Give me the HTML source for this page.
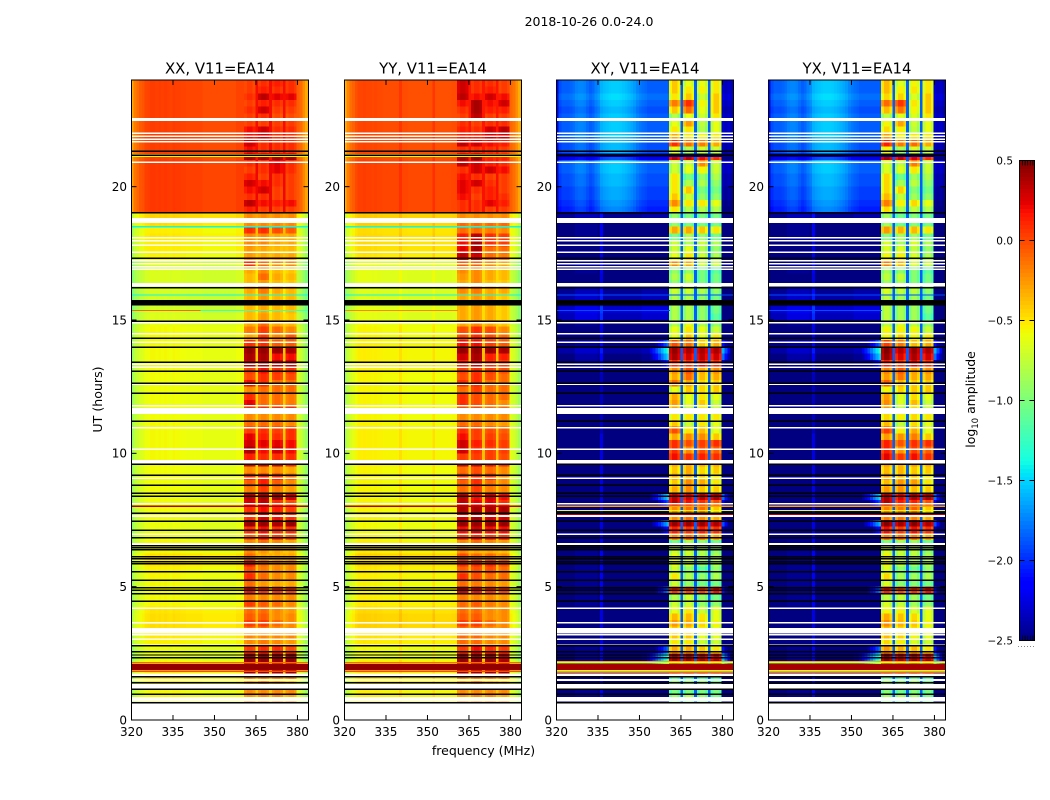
<!DOCTYPE html>
<html lang="en">
<head>
<meta charset="utf-8">
<title>2018-10-26 0.0-24.0</title>
<style>
html,body{margin:0;padding:0;background:#fff;}
svg{display:block;}
text{font-family:"DejaVu Sans","Liberation Sans",sans-serif;fill:#000;}
</style>
</head>
<body>
<svg id="chart" xmlns="http://www.w3.org/2000/svg" width="1050" height="800" viewBox="0 0 1050 800">
<rect x="0" y="0" width="1050" height="800" fill="#fff"/>
<text x="589" y="26" font-size="12.5" text-anchor="middle">2018-10-26 0.0-24.0</text>
<text x="483.5" y="755" font-size="12.5" text-anchor="middle">frequency (MHz)</text>
<text x="0" y="0" font-size="12.6" text-anchor="middle" transform="translate(102,399.5) rotate(-90)">UT (hours)</text>
<text x="0" y="0" font-size="12.4" text-anchor="middle" transform="translate(975,399.5) rotate(-90)">log<tspan font-size="8.6" dy="3">10</tspan><tspan dy="-3"> amplitude</tspan></text>
</svg>
<script>
/* ---------- axis data ---------- */
const freqTicks = [320, 335, 350, 365, 380];
const hourTicks = [0, 5, 10, 15, 20];
const freqRange = [320, 384];
const hourRange = [0, 24];
const colorRange = [-2.5, 0.5];
const colorbarTicks = [0.5, 0, -0.5, -1, -1.5, -2, -2.5];
const colorbarTickLabels = ["0.5", "0.0", "\u22120.5", "\u22121.0", "\u22121.5", "\u22122.0", "\u22122.5"];
const panelTitles = ["XX, V11=EA14", "YY, V11=EA14", "XY, V11=EA14", "YX, V11=EA14"];

/* ---------- heatmap grid: 0.25 h rows, 1 MHz channels ---------- */
const rowHours = 0.25;
const firstChannelMHz = 319.75;
const blockStartChannels = [41, 46, 51, 56];
const gapChannels = [45, 50, 55];

/* background log10 amplitude per 0.25 h row, from 24 h down to 0 h */
const xxBackground = [-.01,-.01,-.01,-.01,-.01,-.01,-.01,-.01,-.01,-.01,-.01,-.01,.01,.01,.01,.01,.01,.01,.01,.01,
-.48,-.52,-.57,-.55,-.57,-.57,-.59,-.7,-.7,-.7,-.7,-.72,-.73,-.73,-.73,-.69,-.64,-.61,-.61,-.61,-.61,-.61,-.61,-.61,-.62,-.62,-.62,-.62,-.62,-.62,-.62,-.61,
-.61,-.61,-.61,-.61,-.61,-.61,-.62,-.62,-.62,-.62,-.62,-.62,-.62,-.62,-.64,-.64,-.62,-.6,-.6,-.52,-.54,-.58,-.6,-.61,-.61,-.61,-.6,-.54,-.52,-.52,-.52,-.56,-.58,-.64,-.66,-.61,-.56,-.56,-.58,-.6,-.6,-.6,-.6,-.6];
const yyBackground = [-.04,-.04,-.04,-.04,-.04,-.04,-.04,-.04,-.04,-.04,-.04,-.04,-.02,-.02,-.02,-.02,-.02,-.02,-.02,-.02,
-.46,-.48,-.52,-.51,-.52,-.52,-.55,-.67,-.67,-.67,-.67,-.69,-.69,-.69,-.67,-.67,-.62,-.6,-.6,-.58,-.58,-.58,-.58,-.58,-.6,-.6,-.6,-.6,-.6,-.6,-.6,-.59,
-.58,-.58,-.58,-.58,-.58,-.58,-.6,-.6,-.6,-.6,-.6,-.6,-.6,-.6,-.62,-.62,-.6,-.58,-.56,-.48,-.52,-.56,-.58,-.6,-.6,-.58,-.56,-.51,-.48,-.48,-.48,-.54,-.56,-.62,-.64,-.58,-.56,-.56,-.56,-.58,-.58,-.58,-.58,-.58];
const xyBackground = [-1.85,-1.85,-1.8,-1.85,-1.9,-1.85,-1.85,-1.85,-1.85,-1.9,-1.9,-2.2,-1.85,-1.85,-1.9,-1.9,-1.95,-1.95,-2,-2.05,
-2.5,-2.6,-2.6,-2.6,-2.65,-2.65,-2.65,-2.6,-2.6,-2.65,-2.65,-2.5,-2.45,-2.4,-2.35,-2.4,-2.6,-2.65,-2.65,-2.6,-2.45,-2.55,-2.55,-2.7,-2.75,-2.75,-2.75,-2.75,-2.75,-2.75,-2.75,-2.75,-2.75,
-2.65,-2.65,-2.65,-2.65,-2.65,-2.65,-2.65,-2.65,-2.65,-2.65,-2.65,-2.65,-2.65,-2.65,-2.65,-2.65,-2.6,-2.6,-2.6,-2.6,-2.6,-2.6,-2.6,-2.6,-2.6,-2.6,-2.65,-2.65,-2.65,-2.65,-2.65,-2.65,-2.6,-2.55,-2.55,-2.5,-2.6,-2.6,-2.6,-2.6,-2.6,-2.7,-2.7];

/* spectral shape added to the background, channels 0..40 */
const xxShape = [-.3,-.15,-.1,-.05,-.03,.02,.03,.05,.05,.04,.05,.04,.05,.04,.03,.05,.04,.04,.03,.03,.02,.02,.02,.02,.02,.02,0,0,0,0,0,0,0,0,0,0,0,0,.03,.03,.03];
const yyShape = [-.3,-.15,-.08,-.04,.02,.05,.05,.06,.05,.05,.04,.05,.04,.04,.03,.03,.03,.03,.03,.03,.1,.03,.03,.02,.02,.02,.02,.02,.02,.02,.02,.02,.1,.02,.02,.02,.02,.02,.02,.03,.03];
const xyShapeUpper = [-.3,-.05,0,0,0,.02,.05,.1,.12,.12,.1,.05,0,.03,.1,.15,.25,.28,.3,.32,.33,.33,.33,.32,.3,.28,.25,.22,.18,.12,.08,.05,.03,0,0,0,0,0,0,0,0];
const xyShapeLower = [-.2,.05,.05,.05,.05,.05,.05,.15,.15,.15,.15,.15,.15,.15,.15,.1,.4,.05,.05,.05,.05,.05,.05,.05,.05,.05,.05,.05,.05,.05,.05,.1,.1,.1,.1,.1,.1,.1,.1,.1,.1];
const shapeSwitchHour = 19;

/* falling edge after the last block, channels 60..64 */
const xxEdge = [-.05,-.1,-.2,-.3,-.35];
const yyEdge = [-.05,-.1,-.18,-.28,-.33];
const xyEdge = [-.45,-.5,-.45,-.5,-.5];

/* variation inside each four-channel block */
const autoInner = [-.05,0,0,-.05];
const crossInner = [-.15,0,0,-.15];

/* gap channel level = base + slope * background */
const gapBase = [.2,.2,-1.85,-1.85];
const gapSlope = [1,1,0,0];

/* block levels per row: the four spectral windows */
const xxBlocks = [
[.05,.1,.15,.1],[.05,.15,.1,.1],[.1,.35,.25,.25],[.05,.15,.1,.1],[.1,.3,.05,.05],[.05,.1,0,0],[.05,.05,.05,.05],[.2,.3,.1,.1],[.2,.3,.1,.1],[.3,.1,.1,.1],
[.2,.1,.1,.1],[.4,.4,.4,.4],[.1,.1,.25,.1],[.05,.1,.25,.1],[.15,.05,.1,.05],[.3,.2,.1,.05],[.2,.3,.05,.05],[.1,.1,.05,.05],[.35,.2,.15,.2],[.15,.05,.05,.05],
[-.2,-.2,-.2,-.2],[-.2,-.2,-.2,-.2],[.1,.1,0,-.05],[-.2,-.2,-.3,-.3],[-.2,-.2,-.3,-.3],[-.25,-.3,-.35,-.35],[-.25,-.3,-.3,-.3],[.1,-.1,-.2,-.2],[-.3,-.2,-.35,-.4],[-.35,-.1,-.3,-.35],
[-.35,-.25,-.35,-.4],[-.3,-.15,-.3,-.35],[-.35,-.25,-.35,-.35],[-.35,-.3,-.35,-.35],[-.35,-.3,-.35,-.35],[-.35,-.25,-.35,-.4],[-.3,-.1,-.3,-.35],[-.15,.05,-.1,-.2],[-.3,.05,-.2,-.05],[.1,.1,-.05,-.05],
[.45,.45,.45,.4],[.4,.4,.2,.2],[.35,.35,.3,.3],[.05,.2,.1,.1],[0,.1,.05,0],[.2,.1,-.1,-.1],[-.2,-.1,-.1,-.1],[.1,-.1,-.1,-.15],[.25,-.1,-.1,-.15],[.1,.1,.1,.1],
[-.2,-.2,-.2,-.2],[-.1,-.1,-.1,-.2],[.05,.1,.05,.1],[.25,.15,.1,.1],[.3,.25,.25,.2],[.4,.2,.3,.2],[.15,.1,.1,.1],[.3,.3,.3,.15],[-.2,-.2,-.2,-.3],[.1,.15,.1,-.1],
[-.05,.15,-.05,-.2],[-.15,.05,-.15,-.25],[.35,.4,.4,.3],[.3,.35,.1,0],[.1,.2,.15,.05],[.1,.3,.2,.1],[.45,.45,.4,.45],[.1,.2,.1,.1],[-.05,.1,.05,-.05],[-.2,-.1,-.2,-.3],
[-.2,-.25,-.3,-.35],[-.1,-.3,-.3,-.3],[.15,-.1,-.2,-.2],[0,-.15,-.2,-.2],[.1,-.1,-.2,-.2],[-.1,-.25,-.3,-.3],[.2,.1,.1,.05],[-.15,-.2,-.2,-.2],[.05,-.05,-.1,-.2],[-.1,-.1,-.2,-.25],
[-.05,-.05,-.2,-.2],[.05,.05,-.1,-.2],[-.1,-.1,-.2,-.2],[-.2,-.2,-.2,-.2],[-.2,-.15,-.2,-.25],[.05,.1,.1,0],[.45,.45,.45,.45],[.45,.45,.45,.45],[.45,.45,.45,.45],[-.2,-.2,-.2,-.2],
[-.3,-.2,-.3,-.4],[-.2,-.2,-.2,-.2],[-.25,-.2,-.2,-.3],[-.2,-.2,-.2,-.2],[-.2,-.2,-.2,-.2],[-.2,-.2,-.2,-.2]];
const yyBlocks = [
[.3,.1,.1,.05],[.3,.1,.15,.05],[.35,.2,.3,.2],[.2,.4,.2,.3],[.1,.4,.15,.15],[.05,.35,.05,.05],[.1,.05,.1,.1],[.15,.1,.3,.35],[.15,.15,.3,.3],[.35,.3,.2,.15],
[.1,.1,.1,.05],[.4,.45,.15,.15],[.35,.3,.15,.1],[.1,.3,.3,.2],[.2,.1,.05,.05],[.25,.3,.1,.05],[.25,.1,.15,.05],[.2,.05,.15,.1],[.1,.1,.25,.15],[.1,.1,.05,.05],
[-.2,-.2,-.2,-.2],[-.1,-.1,-.1,-.1],[-.1,-.1,-.15,-.2],[.15,.35,.1,.05],[.2,.4,.1,.05],[.25,.4,-.1,-.1],[.35,.3,-.1,-.15],[-.05,-.05,-.2,-.3],[-.2,-.2,-.3,-.35],[-.25,-.2,-.3,-.35],
[-.3,-.2,-.35,-.4],[-.2,-.15,-.3,-.3],[-.3,-.25,-.3,-.4],[-.3,-.25,-.3,-.4],[-.3,-.25,-.3,-.4],[-.3,-.25,-.3,-.4],[-.3,-.2,-.3,-.4],[0,.1,0,-.2],[0,.1,0,-.1],[.2,.2,.05,-.05],
[.45,.45,.45,.4],[.3,.4,.15,.15],[.15,.3,.1,.05],[.05,.1,.05,0],[0,.1,0,-.1],[.1,.1,-.1,-.1],[-.1,.05,-.1,-.1],[.1,0,-.1,-.1],[.1,0,-.1,-.2],[0,0,-.1,-.1],
[-.2,-.2,-.2,-.2],[-.1,-.1,-.2,-.25],[.1,.05,0,-.05],[.2,.05,.05,0],[.3,.15,.1,.05],[.3,.1,.05,.05],[.05,.05,.05,0],[.3,.3,.2,.1],[-.1,0,-.1,-.2],[.05,.1,.05,-.2],
[-.05,.1,-.1,-.2],[-.1,.05,-.15,-.2],[.35,.2,.3,.2],[.35,.25,.25,.1],[.4,.4,.4,.4],[.3,.4,.3,.3],[.45,.45,.45,.45],[.2,.3,.2,.2],[.05,.1,.05,.05],[-.2,-.1,-.2,-.25],
[-.2,-.3,-.3,-.35],[0,-.1,-.1,-.2],[.1,.1,.1,0],[-.05,0,0,-.1],[.1,0,-.1,-.1],[-.1,-.15,-.2,-.25],[.3,.2,.1,.05],[-.15,-.2,-.2,-.25],[-.1,-.05,-.15,-.2],[-.1,-.1,-.2,-.2],
[-.05,-.05,-.2,-.2],[.05,.05,-.1,-.2],[-.1,-.1,-.2,-.2],[-.1,-.1,-.2,-.2],[-.1,-.1,-.2,-.2],[.05,.2,.1,.05],[.45,.45,.45,.35],[.45,.45,.45,.4],[.45,.45,.45,.45],[-.2,-.2,-.2,-.2],
[-.3,-.2,-.35,-.4],[-.2,-.2,-.2,-.2],[-.25,-.2,-.2,-.3],[-.2,-.2,-.2,-.2],[-.2,-.2,-.2,-.2],[-.2,-.2,-.2,-.2]];
const xyBlocks = [
[-.4,-.6,-.6,-.5],[-.4,-.5,-.55,-.5],[-.5,-.4,-.7,-.4],[-.15,.1,-.55,-.4],[-.4,-.1,-.6,-.4],[-.8,-.6,-.7,-.5],[-.6,-.25,-.75,-.6],[-.5,-.5,-.8,-.6],[-.3,-.5,-.55,-.5],[.1,-.1,-.15,-.3],
[-.6,-.8,-.7,-.7],[.35,.35,.2,.1],[-.7,-.7,-.2,-.7],[-.7,-.6,-.55,-.7],[-.5,-1,-.9,-.8],[-.5,-.8,-.8,-.9],[-.5,-.4,-1,-1],[-.4,-.7,-.9,-.9],[-.2,-.5,-.5,-.6],[-.5,-.8,-.8,-.8],
[-.9,-1,-1,-1],[-.9,-1,-1,-1],[-.3,-.3,-.4,-.5],[-1,-.8,-.9,-1],[-.7,-.8,-.7,-.8],[-.7,-.6,-.8,-.9],[-.6,-.5,-.7,-.8],[-.2,-.3,-.7,-.7],[-.9,-.9,-1,-1.1],[-.8,-.7,-1,-1],
[-.9,-.8,-1,-1],[-.7,-.7,-.8,-.9],[-.8,-.8,-.9,-1],[-.8,-.8,-.9,-1],[-.8,-.8,-.9,-1],[-.8,-.8,-.9,-1.1],[-.8,-.6,-.8,-.9],[-.6,-.5,-.6,-.7],[-.6,-.4,-.6,-.5],[0,-.1,-.4,-.3],
[.45,.4,.4,.4],[.4,.3,.35,.3],[.1,.1,.2,.1],[-.2,0,-.3,-.2],[-.3,-.1,-.35,-.3],[-.1,-.3,-.45,-.4],[-.6,-.4,-.45,-.4],[-.3,-.6,-.5,-.6],[-.25,-.6,-.4,-.7],[-.3,-.7,-.5,-.7],
[-.5,-.5,-.5,-.5],[-.4,-.7,-.5,-.6],[0,-.5,-.35,-.6],[-.3,-.2,-.2,-.4],[.1,0,.05,.1],[.1,-.2,0,-.05],[.2,.1,.15,.1],[-.3,-.3,-.3,-.3],[-.4,-.3,-.45,-.4],[-.3,-.3,-.4,-.5],
[-.4,-.2,-.3,-.5],[-.3,-.2,-.4,-.4],[.35,.3,.35,.4],[.35,.2,.1,0],[-.2,-.1,-.1,-.4],[-.2,-.1,-.2,-.3],[.45,.45,.45,.4],[.15,.1,.15,.1],[-.2,-.1,-.2,-.3],[-1,-.8,-.9,-1],
[-.7,-.7,-.8,-.9],[-.6,-.7,-.8,-.8],[-.6,-.7,-.9,-.8],[-.7,-.9,-1.1,-.9],[-.5,-.8,-.9,-.8],[-.7,-.9,-1,-1],[.1,.05,.05,.2],[-.8,-.7,-.9,-1],[-.7,-.7,-.9,-.9],[-.6,-.5,-.7,-.6],
[-.35,-.35,-.5,-.6],[-.25,-.3,-.45,-.55],[-.4,-.4,-.5,-.6],[-.4,-.4,-.6,-.6],[-.5,-.5,-.7,-.7],[-.3,-.3,-.4,-.5],[.45,.45,.4,.35],[.45,.45,.45,.45],[.45,.45,.45,.45],[-1.1,-1.1,-1.1,-1.1],
[-.9,-.9,-.9,-1],[-1,-1,-1,-1],[-.9,-.8,-.9,-1],[-1,-1,-1,-1],[-1,-1,-1,-1],[-1,-1,-1,-1]];
const yxBlockOffsets = [.05,-.03,.05,0];

/* cross-hand leakage either side of the band during bright intervals */
const tailHours = [14.1,13.9,13.6,13.4,8.4,8.2,7.5,7.2,5,2.7,2.45,2.2];
const tailLevels = [-1.8,-1.3,-1.5,-2,-1.5,-1.9,-1.6,-2.1,-1.8,-1.8,-1.3,-1.2];

/* flagged / no-data intervals in UT hours */
const whiteGapStarts = [22.58,22.52,22.03,21.92,21.81,21.71,20.94,18.83,18.12,18,17.83,17.57,17.25,17.14,17.03,16.93,16.38,16.31,14.92,14.52,14.19,13.37,13.26,12.62,11.82,11.7,10.99,10.18,9.75,9.09,8.14,7.68,6.99,6.64,4.22,3.68,3.45,3.23,3.06,2.83,1.75,1.54,1.35,.87,.61];
const whiteGapEnds = [22.52,22.46,21.97,21.86,21.75,21.65,20.88,18.63,18.06,17.94,17.77,17.51,17.19,17.08,16.97,16.87,16.32,16.25,14.86,14.46,14.13,13.31,13.2,12.56,11.76,11.48,10.93,10.12,9.6,9.03,8.08,7.62,6.93,6.53,4.16,3.62,3.25,3.17,3,2.77,1.62,1.46,1.16,.69,0];
const blackLineHours = [21.33,21.18,19.02,17.31,16.21,14.95,14.31,13.98,13.41,13.08,12.63,12.25,11.2,9.59,9.18,8.8,8.5,8.39,7.45,7.11,6.84,6.54,6.46,6.39,6.12,6.05,5.94,5.86,5.56,5.24,4.96,4.86,4.73,4.45,2.78,2.56,2.44,2.34,1.62,1.4,1.15,.96,.65];
const blackLineWidthHours = 0.05;
const blackBandStarts = [15.75,7.78,4.47];
const blackBandEnds = [15.54,7.73,4.42];

/* single-integration RFI streaks: panel index, start h, end h, start MHz, end MHz, level */
const streakPanels = [0,1,2,3,0,1,0,1,0,1,2,3,0,0,1,2,3,0,1,2,3,2,3,2,3,0,1,0,1,0,1,2,3,2,3,2,3,2,3,2,3];
const streakStartHours = [21.22,21.22,21.25,21.25,18.52,18.52,15.96,15.96,18,18,15.96,15.96,15.38,15.38,15.38,15.38,15.38,8.05,8.05,8.05,8.05,7.88,7.88,7.76,7.76,2.18,2.18,2.1,2.1,1.86,1.86,2.17,2.17,2.1,2.1,1.88,1.88,1.82,1.82,2.22,2.22];
const streakEndHours = [21.12,21.12,21.12,21.12,18.47,18.47,15.92,15.92,17.96,17.96,15.92,15.92,15.33,15.33,15.33,15.33,15.33,7.98,7.98,7.98,7.98,7.83,7.83,7.69,7.69,2.12,2.12,1.88,1.88,1.8,1.8,2.12,2.12,1.88,1.88,1.82,1.82,1.76,1.76,2.18,2.18];
const streakStartMHz = [320,320,320,320,320,320,320,320,320,320,320,320,320,345,320,320,320,320,320,320,320,320,320,320,320,320,320,320,320,320,320,320,320,320,320,320,320,320,320,320,320];
const streakEndMHz = [384,384,384,384,384,384,384,384,361,361,384,384,345,384,361,361,361,384,384,384,384,384,384,384,384,384,384,384,384,384,384,384,384,384,384,384,384,384,384,384,384];
const streakLevels = [-.6,-.6,-2.5,-2.5,-1.4,-1.4,-1.4,-1.4,-.15,-.6,-1.9,-1.9,-.1,-1.2,-.2,-1.9,-1.9,.35,.35,-.3,-.3,-.6,-.6,.35,.35,-.1,-.1,.45,.45,0,0,-.6,-.6,.4,.4,-.7,-.7,-.1,-.1,-.3,-.3];

/* ---------- scales ---------- */
const svgNS = "http://www.w3.org/2000/svg";
const chart = document.getElementById("chart");
const panelLefts = [131.5, 344.5, 556.5, 768.5];
const panelWidth = 177;
const panelTop = 80;
const panelHeight = 640;
function xScale(left, mhz){ return left + (mhz - freqRange[0]) / (freqRange[1] - freqRange[0]) * panelWidth; }
function yScale(hour){ return panelTop + panelHeight - (hour - hourRange[0]) / (hourRange[1] - hourRange[0]) * panelHeight; }
function ramp(n, a, b){ return Math.max(0, Math.min(1, (n - a) / (b - a))); }
function jet(v){
  const n = Math.max(0, Math.min(1, (v - colorRange[0]) / (colorRange[1] - colorRange[0])));
  const r = n < .89 ? ramp(n, .35, .66) : 1 - .5 * ramp(n, .89, 1);
  const g = n < .5 ? ramp(n, .125, .375) : 1 - ramp(n, .64, .91);
  const b = n < .3 ? .5 + .5 * ramp(n, 0, .11) : 1 - ramp(n, .34, .65);
  return "rgb(" + Math.round(r * 255) + "," + Math.round(g * 255) + "," + Math.round(b * 255) + ")";
}
function make(tag, parent, attrs){
  const node = document.createElementNS(svgNS, tag);
  for (const k in attrs) node.setAttribute(k, attrs[k]);
  parent.appendChild(node);
  return node;
}

const panelData = [
  {bg: xxBackground, upper: xxShape, lower: xxShape, edge: xxEdge, blocks: xxBlocks, inner: autoInner, offsets: [0,0,0,0], tails: false},
  {bg: yyBackground, upper: yyShape, lower: yyShape, edge: yyEdge, blocks: yyBlocks, inner: autoInner, offsets: [0,0,0,0], tails: false},
  {bg: xyBackground, upper: xyShapeUpper, lower: xyShapeLower, edge: xyEdge, blocks: xyBlocks, inner: crossInner, offsets: [0,0,0,0], tails: true},
  {bg: xyBackground, upper: xyShapeUpper, lower: xyShapeLower, edge: xyEdge, blocks: xyBlocks, inner: crossInner, offsets: yxBlockOffsets, tails: true}
];

function cellValue(index, row, ch){
  const p = panelData[index];
  const bg = p.bg[row];
  const hour = hourRange[1] - (row + .5) * rowHours;
  if (gapChannels.indexOf(ch) >= 0) return gapBase[index] + gapSlope[index] * bg;
  for (let b = 0; b < blockStartChannels.length; b++) {
    const pos = ch - blockStartChannels[b];
    if (pos >= 0 && pos < 4) return p.blocks[row][b] + p.inner[pos] + p.offsets[b];
  }
  let v;
  if (ch >= 60) v = bg + p.edge[ch - 60];
  else v = bg + (hour > shapeSwitchHour ? p.upper[ch] : p.lower[ch]);
  if (p.tails) {
    for (let t = 0; t < tailHours.length; t++) {
      if (Math.floor((hourRange[1] - tailHours[t]) / rowHours) !== row) continue;
      if (ch >= 33 && ch <= 40) v = Math.max(v, tailLevels[t] - (40 - ch) * .15);
      if (ch >= 60 && ch <= 62) v = Math.max(v, tailLevels[t] - .3 - (ch - 60) * .3);
    }
  }
  return v;
}

const defs = make("defs", chart, {});

panelTitles.forEach(function (title, index) {
  const left = panelLefts[index];
  const group = make("g", chart, {});
  
  

  const clip = make("clipPath", defs, {id: "clip" + index});
  make("rect", clip, {x: left, y: panelTop, width: panelWidth, height: panelHeight});

  const heat = make("g", group, {"clip-path": "url(#clip" + index + ")", "shape-rendering": "crispEdges"});
  
  

  const rows = panelData[index].bg.length;
  const cols = Math.round(freqRange[1] - firstChannelMHz) + 1;
  for (let r = 0; r < rows; r++) {
    const yTop = yScale(hourRange[1] - r * rowHours);
    const yBot = yScale(hourRange[1] - (r + 1) * rowHours);
    for (let c = 0; c < cols; c++) {
      const x0 = xScale(left, firstChannelMHz + c);
      const x1 = xScale(left, firstChannelMHz + c + 1);
      const cell = make("rect", heat, {x: x0, y: yTop, width: x1 - x0 + .4, height: yBot - yTop + .4, fill: jet(cellValue(index, r, Math.min(c, 64)))});
      
      
    }
  }

  streakPanels.forEach(function (panel, s) {
    if (panel !== index) return;
    const yA = yScale(streakStartHours[s]);
    const yB = yScale(streakEndHours[s]);
    const streak = make("rect", heat, {x: xScale(left, streakStartMHz[s]), y: yA, width: xScale(left, streakEndMHz[s]) - xScale(left, streakStartMHz[s]), height: yB - yA, fill: jet(streakLevels[s])});
    
    
  });

  whiteGapStarts.forEach(function (start, s) {
    const yA = yScale(start);
    const yB = yScale(whiteGapEnds[s]);
    const gap = make("rect", heat, {x: left, y: yA, width: panelWidth, height: yB - yA, fill: "#fff"});
    
    
  });

  blackLineHours.forEach(function (hour) {
    const yA = yScale(hour + blackLineWidthHours / 2);
    const yB = yScale(hour - blackLineWidthHours / 2);
    const line = make("rect", heat, {x: left, y: yA, width: panelWidth, height: yB - yA, fill: "#000"});
    
    
  });

  blackBandStarts.forEach(function (start, s) {
    const yA = yScale(start);
    const yB = yScale(blackBandEnds[s]);
    const band = make("rect", heat, {x: left, y: yA, width: panelWidth, height: yB - yA, fill: "#000"});
    
    
  });

  const frame = make("rect", group, {x: left, y: panelTop, width: panelWidth, height: panelHeight, fill: "none", stroke: "#000", "stroke-width": 1});
  
  

  freqTicks.forEach(function (mhz) {
    const x = xScale(left, mhz);
    const bottomTick = make("line", group, {x1: x, x2: x, y1: panelTop + panelHeight, y2: panelTop + panelHeight - 5, stroke: "#000", "stroke-width": 1});
    
    
    const topTick = make("line", group, {x1: x, x2: x, y1: panelTop, y2: panelTop + 5, stroke: "#000", "stroke-width": 1});
    
    
    const label = make("text", group, {x: x, y: 736, "font-size": 12, "text-anchor": "middle"});
    
    
    label.textContent = String(mhz);
  });

  hourTicks.forEach(function (hour) {
    const y = yScale(hour);
    const leftTick = make("line", group, {x1: left, x2: left + 5, y1: y, y2: y, stroke: "#000", "stroke-width": 1});
    
    
    const rightTick = make("line", group, {x1: left + panelWidth, x2: left + panelWidth - 5, y1: y, y2: y, stroke: "#000", "stroke-width": 1});
    
    
    const label = make("text", group, {x: left - 4.5, y: y + 4.4, "font-size": 12, "text-anchor": "end"});
    
    
    label.textContent = String(hour);
  });

  const heading = make("text", group, {x: left + panelWidth / 2, y: 73.5, "font-size": 14.9, "text-anchor": "middle"});
  
  
  heading.textContent = title;
});

/* ---------- colorbar ---------- */
const cbLeft = 1019.5, cbWidth = 15, cbTop = 160.5, cbHeight = 480;
const cbSteps = 120;
function cbScale(v){ return cbTop + cbHeight - (v - colorRange[0]) / (colorRange[1] - colorRange[0]) * cbHeight; }
const cb = make("g", chart, {});


const cbSwatches = make("g", cb, {"shape-rendering": "crispEdges"});
const cbStep = (colorRange[1] - colorRange[0]) / cbSteps;
for (let i = 0; i < cbSteps; i++) {
  const v = colorRange[0] + i * cbStep;
  const swatch = make("rect", cbSwatches, {x: cbLeft, y: cbScale(v + cbStep), width: cbWidth, height: cbScale(v) - cbScale(v + cbStep) + (i === 0 ? 0 : .5), fill: jet(v + cbStep / 2)});
  
  
}
const cbFrame = make("rect", cb, {x: cbLeft, y: cbTop, width: cbWidth, height: cbHeight, fill: "none", stroke: "#000", "stroke-width": 1});


colorbarTicks.forEach(function (v, i) {
  const y = cbScale(v);
  const leftMark = make("line", cb, {x1: cbLeft, x2: cbLeft + 5, y1: y, y2: y, stroke: "#000", "stroke-width": 1});
  
  
  const rightMark = make("line", cb, {x1: cbLeft + cbWidth, x2: cbLeft + cbWidth - 5, y1: y, y2: y, stroke: "#000", "stroke-width": 1});
  
  
  const label = make("text", cb, {x: 1013, y: y + 3.8, "font-size": 10.5, "text-anchor": "end"});
  
  
  label.textContent = colorbarTickLabels[i];
});
[0, 1, 2, 3, 4].forEach(function (k) {
  const x = cbLeft + 3 + k * 2.6;
  const topMinor = make("line", cb, {x1: x, x2: x, y1: cbTop, y2: cbTop + 5, stroke: "#000", "stroke-width": .8});
  
  
  const bottomMinor = make("line", cb, {x1: x, x2: x, y1: cbTop + cbHeight, y2: cbTop + cbHeight - 5, stroke: "#000", "stroke-width": .8});
  
  
});
const cbDots = make("line", cb, {x1: 1018, x2: 1034, y1: 646.5, y2: 646.5, stroke: "#888", "stroke-width": 1, "stroke-dasharray": "1 2"});


</script>
</body>
</html>
